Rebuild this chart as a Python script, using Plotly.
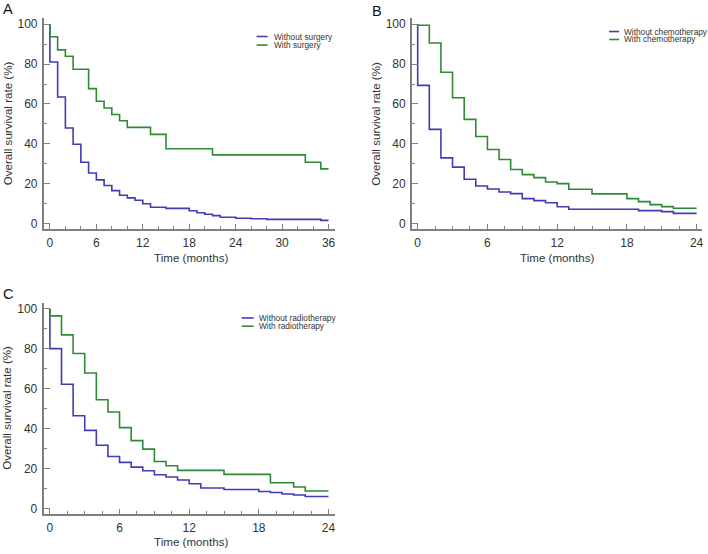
import plotly.graph_objects as go

# ---------------- data ----------------
# Panel A: surgery (time in months, survival %)
a_without_t = [0, 0, 1, 2, 3, 4, 5, 6, 7, 8, 9, 10, 11, 12, 13, 15, 18, 19, 20, 21, 22, 24, 26, 28, 35, 36]
a_without_s = [100, 81, 63.5, 48, 39.8, 30.8, 25.4, 22, 19.2, 16.6, 14.3, 13, 11.8, 10, 8.3, 7.7, 6.5, 5.5, 4.8, 4.1, 3.3, 2.8, 2.5, 2.2, 1.7, 1.7]
a_with_t = [0, 0, 1, 2, 3, 5, 6, 7, 8, 9, 10, 13, 15, 21, 33, 35, 36]
a_with_s = [100, 93.7, 87.1, 83.9, 77.4, 67.7, 61.4, 58, 54.7, 51.6, 48.3, 44.8, 37.6, 34.5, 30.8, 27.5, 27.5]

# Panel B: chemotherapy
b_without_t = [0, 0, 1, 2, 3, 4, 5, 6, 7, 8, 9, 10, 11, 12, 13, 19, 21, 22, 24]
b_without_s = [100, 69.3, 47.3, 33, 28.4, 22.3, 18.9, 17.4, 15.9, 15.1, 12.6, 11.6, 10.5, 8.5, 7.3, 6.6, 6.1, 5.2, 5.2]
b_with_t = [0, 0, 1, 2, 3, 4, 5, 6, 7, 8, 9, 10, 11, 12, 13, 15, 18, 19, 20, 21, 22, 24]
b_with_s = [100, 99.4, 90.5, 75.9, 63.1, 52.3, 43.7, 37.2, 32.2, 27.2, 24.6, 23.1, 20.9, 20.1, 17.3, 15, 12.6, 11.1, 9.6, 8.6, 7.8, 7.8]

# Panel C: radiotherapy
c_without_t = [0, 0, 1, 2, 3, 4, 5, 6, 7, 8, 9, 10, 11, 12, 13, 15, 18, 19, 20, 21, 22, 24]
c_without_s = [100, 80, 62.2, 46.4, 39.1, 31.7, 26, 23.1, 20.7, 18.9, 16.9, 15.8, 14.3, 12.4, 10.3, 9.5, 8.5, 8, 7.3, 6.8, 6, 6]
c_with_t = [0, 0, 1, 2, 3, 4, 5, 6, 7, 8, 9, 10, 11, 15, 19, 21, 22, 24]
c_with_s = [100, 96.4, 86.9, 77.6, 67.8, 54.4, 48.3, 40.5, 34, 29.7, 23.5, 21.4, 19.1, 17.1, 12.9, 10.8, 8.8, 8.8]

panel_letters = ["A", "B", "C"]
legend_a = ["Without surgery", "With surgery"]
legend_b = ["Without chemotherapy", "With chemotherapy"]
legend_c = ["Without radiotherapy", "With radiotherapy"]
y_ticks = [0, 20, 40, 60, 80, 100]
x_ticks_36 = [0, 6, 12, 18, 24, 30, 36]
x_ticks_24 = [0, 6, 12, 18, 24]
y_title = "Overall survival rate (%)"
x_title = "Time (months)"

# ---------------- styling ----------------
W, H = 708, 554
BLUE = "#3e3eb2"
GREEN = "#2f8a34"
AXIS = "#7f7f7f"
TXT = "#333333"
FONT = "Liberation Sans, Arial, Helvetica, sans-serif"


def px(x):
    return x / W


def py(y):
    return 1 - y / H


fig = go.Figure()

panels = [
    dict(xa="x", ya="y", data=[(a_without_t, a_without_s, BLUE), (a_with_t, a_with_s, GREEN)]),
    dict(xa="x2", ya="y2", data=[(b_without_t, b_without_s, BLUE), (b_with_t, b_with_s, GREEN)]),
    dict(xa="x3", ya="y3", data=[(c_without_t, c_without_s, BLUE), (c_with_t, c_with_s, GREEN)]),
]
for p in panels:
    for t, s, col in p["data"]:
        fig.add_trace(go.Scatter(x=t, y=s, mode="lines", line=dict(color=col, width=1.6, shape="hv"),
                                 xaxis=p["xa"], yaxis=p["ya"], showlegend=False, hoverinfo="skip"))

tickfont = dict(family=FONT, size=12, color=TXT)


def xaxis(domain, rng, ticks, anchor, minor_dtick):
    return dict(domain=domain, range=rng, anchor=anchor, tickmode="array", tickvals=ticks,
                ticks="inside", ticklen=5, tickwidth=1.3, tickcolor=AXIS,
                showline=True, linecolor=AXIS, linewidth=2, showgrid=False, zeroline=False,
                tickfont=tickfont, ticklabelstandoff=2,
                minor=dict(dtick=minor_dtick, tick0=0, ticks="inside", ticklen=3, tickcolor=AXIS, tickwidth=1, showgrid=False))


def yaxis(domain, rng, anchor):
    return dict(domain=domain, range=rng, anchor=anchor, tickmode="array", tickvals=y_ticks,
                ticks="inside", ticklen=6, tickwidth=1.3, tickcolor=AXIS,
                showline=True, linecolor=AXIS, linewidth=2, showgrid=False, zeroline=False,
                tickfont=tickfont, ticklabelstandoff=2,
                minor=dict(dtick=10, tick0=0, ticks="inside", ticklen=3, tickcolor=AXIS, tickwidth=1, showgrid=False))


dom_a_x = [px(44), px(335)]
dom_b_x = [px(412.7), px(703.3)]
dom_c_x = [px(43.7), px(335)]
dom_ab_y = [py(229), py(17)]
dom_c_y = [py(515.3), py(303.7)]

fig.update_layout(
    width=W, height=H, margin=dict(l=0, r=0, t=0, b=0),
    paper_bgcolor="white", plot_bgcolor="white", showlegend=False,
    xaxis=xaxis(dom_a_x, [-0.77, 36.77], x_ticks_36, "y", 2),
    yaxis=yaxis(dom_ab_y, [-2.49, 103.1], "x"),
    xaxis2=xaxis(dom_b_x, [-0.48, 24.49], x_ticks_24, "y2", 1.5),
    yaxis2=yaxis(dom_ab_y, [-2.49, 103.1], "x2"),
    xaxis3=xaxis(dom_c_x, [-0.54, 24.52], x_ticks_24, "y3", 1.5),
    yaxis3=yaxis(dom_c_y, [-2.49, 102.8], "x3"),
)

ann = []
shapes = []

# panel letters
for letter, (x, y) in zip(panel_letters, [(1.5, 8.5), (370.5, 10), (1.5, 295)]):
    ann.append(dict(text=letter, x=px(x), y=py(y), xref="paper", yref="paper", xanchor="left", yanchor="middle",
                    showarrow=False, font=dict(family=FONT, size=14.5, color="#111111")))

# axis titles
for cx, cy in [(191, 258), (558, 258), (191, 543.7)]:
    ann.append(dict(text=x_title, x=px(cx), y=py(cy), xref="paper", yref="paper", xanchor="center", yanchor="middle",
                    showarrow=False, font=dict(family=FONT, size=11.6, color=TXT)))
for cx, cy in [(7, 123), (376, 123), (7, 409)]:
    ann.append(dict(text=y_title, x=px(cx), y=py(cy), xref="paper", yref="paper", xanchor="center", yanchor="middle",
                    textangle=-90, showarrow=False, font=dict(family=FONT, size=11.6, color=TXT)))

# manual legends
legends = [
    (legend_a, 257, 268, 272, [35.7, 44.3]),
    (legend_b, 610, 620, 622.5, [30.7, 38.7]),
    (legend_c, 242, 254, 257, [318.7, 327]),
]
for labels, lx0, lx1, tx, ys in legends:
    for lab, col, yy in zip(labels, [BLUE, GREEN], ys):
        shapes.append(dict(type="line", xref="paper", yref="paper", x0=px(lx0), x1=px(lx1), y0=py(yy), y1=py(yy),
                           line=dict(color=col, width=1.6)))
        ann.append(dict(text=lab, x=px(tx), y=py(yy), xref="paper", yref="paper", xanchor="left", yanchor="middle",
                        showarrow=False, font=dict(family=FONT, size=8.3, color=TXT)))

fig.update_layout(annotations=ann, shapes=shapes)
fig.write_html("out.html", config={"displayModeBar": False},
               post_script="document.body.style.margin='0';document.body.style.overflow='hidden';")
